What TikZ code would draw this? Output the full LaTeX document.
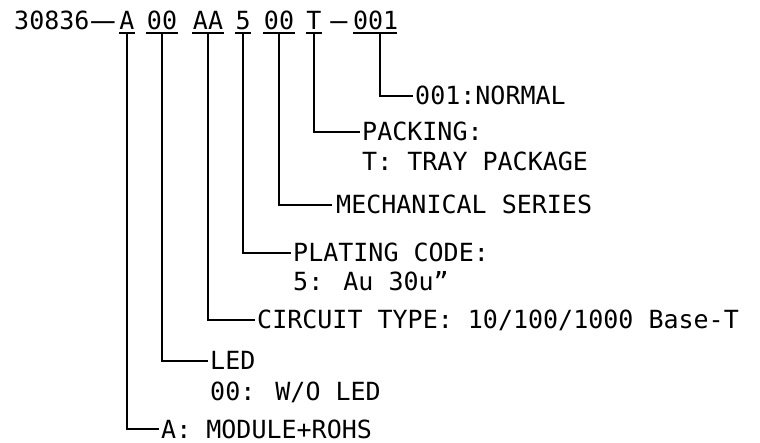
\documentclass[tikz,border=0pt]{standalone}
\usepackage{fontspec}
\newfontfamily\cadfont{DejaVu Sans Mono}
\begin{document}
\begin{tikzpicture}[x=1pt,y=-1pt,
  every node/.style={font=\cadfont\fontsize{25}{30}\selectfont},
  code/.style={inner sep=0pt, text height=18pt, text depth=3pt, align=center, anchor=south},
  lbl/.style={inner xsep=3pt, inner ysep=0pt, text height=18pt, text depth=0pt, anchor=west},
  wire/.style={line width=1.7pt, line cap=rect}]
\useasboundingbox (0,0) rectangle (760,443);
% part number
\node[inner sep=0pt, anchor=base west] (pre) at (14,30) {30836};
\node[inner sep=0pt, anchor=base] (dash1) at (103,30) {\scalebox{3.7}[1]{-}};
\node[code, text width=16pt] (cA) at (127,33) {A};
\node[code, text width=32pt] (cB) at (162,33) {00};
\node[code, text width=31pt] (cC) at (208,33) {AA};
\node[code, text width=15pt] (cD) at (243,33) {5};
\node[code, text width=32pt] (cE) at (279,33) {00};
\node[code, text width=16pt] (cF) at (314,33) {T};
\node[inner sep=0pt, anchor=base] (dash2) at (339,30) {\scalebox{2.7}[1]{-}};
\node[code, text width=44pt] (cG) at (375,33) {001};
\foreach \c in {cA,cB,cC,cD,cE,cF,cG}
  \draw[line width=1.7pt] (\c.south west) -- (\c.south east);
% labels
\node[lbl] (lG) at (412,96) {001:NORMAL};
\node[lbl] (lF) at (359,132) {PACKING:};
\node[lbl] (lF2) at ([yshift=-30pt]lF.west) {T: TRAY PACKAGE};
\node[lbl, inner xsep=5pt] (lE) at (331,205) {MECHANICAL SERIES};
\node[lbl] (lD) at (290,253) {PLATING CODE:};
\node[lbl] (lD2) at ([yshift=-29pt]lD.west) {5: Au 30u”};
\node[lbl] (lC) at (254,320) {CIRCUIT TYPE: 10/100/1000 Base-T};
\node[lbl] (lB) at (207,361) {LED};
\node[lbl] (lB2) at ([yshift=-30pt]lB.west) {00: W/O LED};
\node[lbl] (lA) at (158,429) {A: MODULE+ROHS};
% connectors
\draw[wire] ([xshift=5pt]cG.south) |- (lG.west);
\draw[wire] (cF.south) |- (lF.west);
\draw[wire] (cE.south) |- (lE.west);
\draw[wire] (cD.south) |- (lD.west);
\draw[wire] (cC.south) |- (lC.west);
\draw[wire] (cB.south) |- (lB.west);
\draw[wire] (cA.south) |- (lA.west);
\end{tikzpicture}
\end{document}
